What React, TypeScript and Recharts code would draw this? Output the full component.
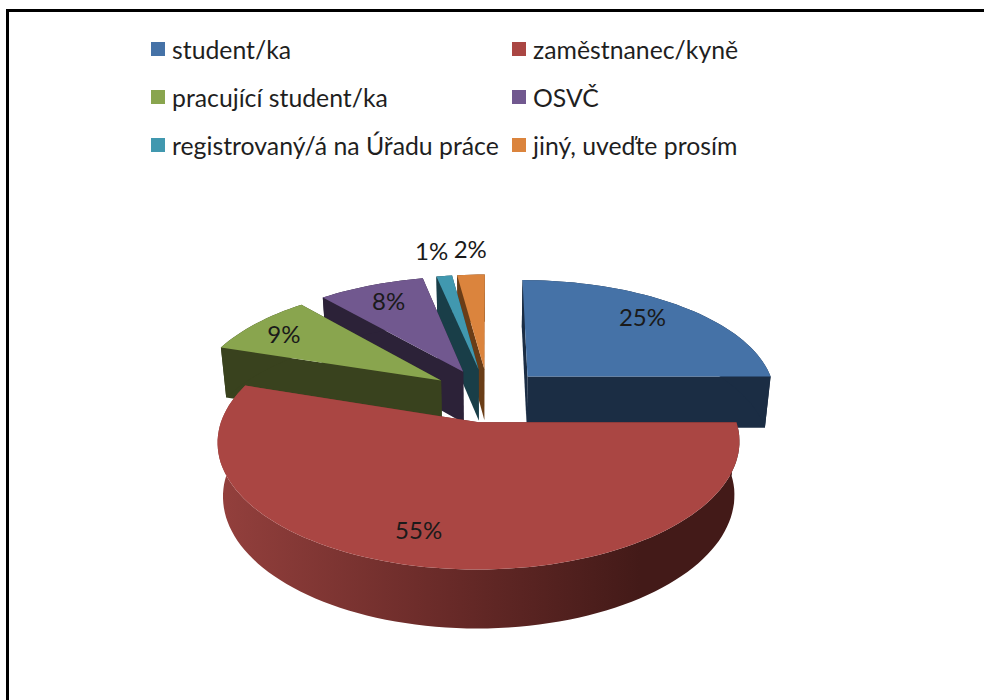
import { PieChart, Pie, Legend } from 'recharts';

const categories = [
  'student/ka',
  'zaměstnanec/kyně',
  'pracující student/ka',
  'OSVČ',
  'registrovaný/á na Úřadu práce',
  'jiný, uveďte prosím',
];
const shares = [25, 55, 8.6, 8.1, 1.2, 2.1];
const topColors = ['#4572a7', '#aa4643', '#89a54e', '#71588f', '#4198af', '#db843d'];
const wallColors = ['#1b2d44', 'url(#redWall)', '#39421e', '#2c2238', '#193e48', '#6a3d17'];

// painter's order going counter-clockwise from blue: the big red slice ends up on top
const drawOrder = [0, 5, 4, 3, 2, 1];
const chartData = drawOrder.map((i) => ({
  name: categories[i],
  value: shares[i],
  top: topColors[i],
  wall: wallColors[i],
}));

const FONT = 'Lato, sans-serif';
const SQUASH = 0.466;
const PERSPECTIVE = 0.15;
const EXPLODE = 0.23;
const RAD = Math.PI / 180;

// small manual corrections for the percentage labels, by rounded value
const labelNudge: Record<number, number[]> = {
  25: [-9, -2],
  55: [-22, -5],
  9: [-7, -1],
  8: [1, -1],
  1: [-3, 0],
  2: [3, 0],
};

function project(cx: number, cy: number, r: number, x: number, y: number, lower = false) {
  const w = 1 / (1 - PERSPECTIVE * y);
  let sx = cx + r * x * w;
  let sy = cy + r * SQUASH * y * w;
  if (lower) {
    sx = cx + (sx - cx) * 0.98;
    sy = cy + 52 + (sy - cy) * 1.04;
  }
  return [sx, sy];
}

function toPath(points: number[][]) {
  return points.map((p, i) => `${i ? 'L' : 'M'}${p[0].toFixed(1)} ${p[1].toFixed(1)}`).join(' ') + ' Z';
}

function Slice3D(props: any) {
  const { cx, cy, outerRadius, startAngle, endAngle, midAngle, payload } = props;
  const mid = midAngle ?? (startAngle + endAngle) / 2;
  const ox = EXPLODE * Math.cos(mid * RAD);
  const oy = -EXPLODE * Math.sin(mid * RAD);
  const steps = Math.max(2, Math.ceil(Math.abs(endAngle - startAngle) / 2));
  const upper: number[][] = [];
  const lower: number[][] = [];
  for (let i = 0; i <= steps; i++) {
    const a = (startAngle + ((endAngle - startAngle) * i) / steps) * RAD;
    const x = ox + Math.cos(a);
    const y = oy - Math.sin(a);
    upper.push(project(cx, cy, outerRadius, x, y));
    lower.push(project(cx, cy, outerRadius, x, y, true));
  }
  const apex = project(cx, cy, outerRadius, ox, oy);
  const apexLow = project(cx, cy, outerRadius, ox, oy, true);
  return (
    <g>
      <path d={toPath([apex, upper[0], lower[0], apexLow])} fill={payload.wall} />
      <path d={toPath([apex, upper[steps], lower[steps], apexLow])} fill={payload.wall} />
      <path d={toPath([...upper, ...[...lower].reverse()])} fill={payload.wall} />
      <path d={toPath([apex, ...upper])} fill={payload.top} />
    </g>
  );
}

function sliceLabel(props: any) {
  const { cx, cy, outerRadius, midAngle, value } = props;
  const c = Math.cos(midAngle * RAD);
  const s = -Math.sin(midAngle * RAD);
  const dist = value < 5 ? 1.33 : 0.8;
  const [x, y] = project(cx, cy, outerRadius, (EXPLODE + dist) * c, (EXPLODE + dist) * s);
  const shown = Math.round(value);
  const [dx, dy] = labelNudge[shown];
  return (
    <text x={x + dx} y={y + dy} textAnchor="middle" dominantBaseline="central" fontFamily={FONT} fontSize={24} fill="#1a1a1a">
      {shown}%
    </text>
  );
}

function LegendBlock() {
  return (
    <div style={{ position: 'absolute', left: 151, top: 25, display: 'grid', gridTemplateColumns: '361px 300px', gridAutoRows: 48 }}>
      {categories.map((name, i) => (
        <div key={name} style={{ display: 'flex', alignItems: 'center', fontFamily: FONT, fontSize: 24.8, color: '#1f1f1f', whiteSpace: 'nowrap' }}>
          <span style={{ width: 14, height: 14, marginRight: 7, background: topColors[i], display: 'inline-block' }} />
          {name}
        </div>
      ))}
    </div>
  );
}

export default function App() {
  return (
    <div style={{ position: 'absolute', left: 0, top: 0, width: 984, height: 700, background: '#fff', overflow: 'hidden' }}>
      <div style={{ position: 'absolute', left: 6, top: 9, right: 0, bottom: 0, borderTop: '3px solid #000', borderLeft: '3px solid #000' }} />
      <PieChart width={984} height={700} style={{ position: 'absolute', left: 0, top: 0 }}>
        <defs>
          <linearGradient id="redWall" gradientUnits="userSpaceOnUse" x1={216} y1={0} x2={640} y2={0}>
            <stop offset="0%" stopColor="#94403d" />
            <stop offset="55%" stopColor="#682a28" />
            <stop offset="100%" stopColor="#431a18" />
          </linearGradient>
        </defs>
        <Legend content={<LegendBlock />} wrapperStyle={{ position: 'absolute', left: 0, top: 0, width: 0, height: 0 }} />
        <Pie
          data={chartData}
          dataKey="value"
          nameKey="name"
          cx={483}
          cy={390}
          outerRadius={249}
          startAngle={0}
          endAngle={360}
          stroke="none"
          shape={Slice3D}
          label={sliceLabel}
          labelLine={false}
          isAnimationActive={false}
        />
      </PieChart>
    </div>
  );
}
